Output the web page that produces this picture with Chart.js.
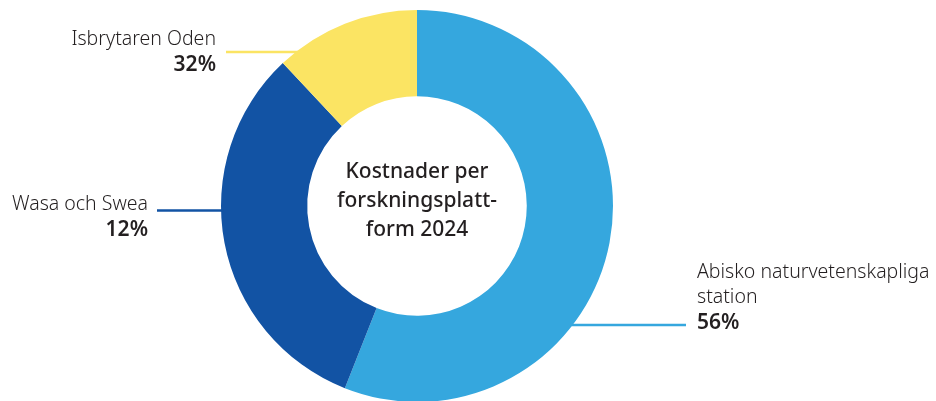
<html lang="sv">
  <head>
    <meta charset="utf-8" />
    <title>Kostnader per forskningsplattform 2024</title>
    <script src="https://cdn.jsdelivr.net/npm/chart.js@4.4.1/dist/chart.umd.min.js"></script>
    <style>
* {
  padding: 0;
  margin: 0;
  box-sizing: border-box;
}
html, body {
  width: 936px;
  height: 401px;
  overflow: hidden;
  background: #ffffff;
}
.wrapper {
  position: absolute;
  top: 0;
  left: 0;
  width: 936px;
  height: 412px;
}
    </style>
  </head>
  <body>
    <div class="wrapper">
      <canvas id="chart"></canvas>
    </div>

    <script>
      // Slices, clockwise from the top
      const platforms = ["Abisko naturvetenskapliga station", "Wasa och Swea", "Isbrytaren Oden"];
      const shares = [56, 32, 12];
      // Percent labels exactly as printed in the source
      const shareLabels = ["56%", "12%", "32%"];
      const sliceColors = ["#35a7de", "#1253a4", "#fbe463"];
      const centerTitle = ["Kostnader per", "forskningsplatt-", "form 2024"];

      const textColor = "#231f20";
      const fontFamily = '"Noto Sans", "Open Sans", sans-serif';

      // Label boxes: where the text sits and which y the leader line uses
      const labelSetup = [
        { lines: ["Abisko naturvetenskapliga", "station"], x: 697, y: 278, align: "left", lineY: 325, lineEnd: 686 },
        { lines: ["Wasa och Swea"], x: 148, y: 210, align: "right", lineY: 210.5, lineEnd: 157 },
        { lines: ["Isbrytaren Oden"], x: 216, y: 45, align: "right", lineY: 52, lineEnd: 226 }
      ];

      // Draws the centre title, leader lines and outside labels
      const labelPlugin = {
        id: "labels",
        afterDraw(chart) {
          const ctx = chart.ctx;
          const arc = chart.getDatasetMeta(0).data[0];
          const cx = arc.x, cy = arc.y, r = arc.outerRadius;

          ctx.save();
          // centre title
          ctx.fillStyle = textColor;
          ctx.textAlign = "center";
          ctx.textBaseline = "alphabetic";
          ctx.font = "500 21px " + fontFamily;
          centerTitle.forEach((t, i) => ctx.fillText(t, cx, 178 + i * 29));

          labelSetup.forEach((lab, i) => {
            // leader line from label to the ring edge
            const dy = lab.lineY - cy;
            const dx = Math.sqrt(Math.max(r * r - dy * dy, 0));
            const ringX = lab.align === "left" ? cx + dx - 2 : cx - dx + 2;
            ctx.strokeStyle = sliceColors[i];
            ctx.lineWidth = 2.5;
            ctx.beginPath();
            ctx.moveTo(lab.lineEnd, lab.lineY);
            ctx.lineTo(ringX, lab.lineY);
            ctx.stroke();

            ctx.fillStyle = textColor;
            ctx.textAlign = lab.align;
            ctx.font = "300 19.5px " + fontFamily;
            lab.lines.forEach((t, j) => ctx.fillText(t, lab.x, lab.y + j * 25));
            ctx.font = "600 21px " + fontFamily;
            ctx.fillText(shareLabels[i], lab.x, lab.y + lab.lines.length * 25 + 1);
          });
          ctx.restore();
        }
      };

      new Chart(document.getElementById("chart"), {
        type: "doughnut",
        plugins: [labelPlugin],
        data: {
          labels: platforms,
          datasets: [
            {
              data: shares,
              backgroundColor: sliceColors,
              borderWidth: 0
            }
          ]
        },
        options: {
          responsive: true,
          maintainAspectRatio: false,
          animation: false,
          cutout: "56%",
          rotation: 0,
          layout: { padding: { top: 10, bottom: 10, left: 0, right: 102 } },
          plugins: {
            legend: { display: false },
            tooltip: { enabled: false }
          }
        }
      });
    </script>
  </body>
</html>
